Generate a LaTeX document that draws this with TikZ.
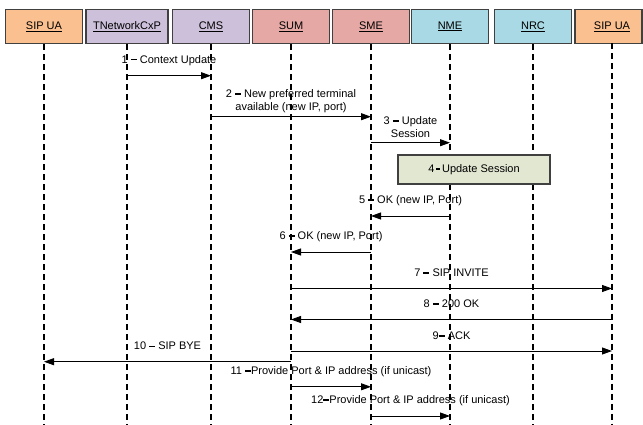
\documentclass[tikz,border=0pt]{standalone}
\usepackage{fontspec}
\setmainfont{Liberation Sans}
\usetikzlibrary{arrows.meta}

\definecolor{uaorange}{HTML}{FAC08F}
\definecolor{ctxlilac}{HTML}{CCC0DA}
\definecolor{sessrose}{HTML}{E5A8A4}
\definecolor{netblue}{HTML}{A9D9E4}
\definecolor{stepgreen}{HTML}{E2E7D2}
\definecolor{edgegray}{HTML}{404040}

% short heavy bar used between a step number and its text
\newcommand{\msgbar}{\rule[2.6pt]{6pt}{1.8pt}}

\tikzset{
  actor/.style={draw=edgegray, line width=1.1pt, minimum width=77pt,
    minimum height=34pt, inner sep=0pt, font=\fontsize{11}{13}\selectfont},
  lifeline/.style={line width=1.8pt, dash pattern=on 6pt off 4pt},
  msg/.style={line width=0.9pt, -{Triangle[length=10pt,width=7pt]}},
  msglabel/.style={midway, yshift=15.5pt, inner sep=0pt, align=center,
    font=\fontsize{11}{13.5}\selectfont},
  notebox/.style={draw=edgegray, line width=1.1pt, fill=stepgreen,
    minimum width=152pt, minimum height=29pt, inner sep=0pt,
    font=\fontsize{11}{13}\selectfont}
}

\begin{document}
\begin{tikzpicture}[x=1pt, y=-1pt]
\useasboundingbox (0,0) rectangle (643,425);

% participants
\node[actor, fill=uaorange] (ua1) at (44,26.5) {\underline{SIP UA}};
\node[actor, fill=ctxlilac, minimum width=82pt] (tnc) at (127,26.5) {\underline{TNetworkCxP}};
\node[actor, fill=ctxlilac] (cms) at (211,26.5) {\underline{CMS}};
\node[actor, fill=sessrose] (sum) at (291,26.5) {\underline{SUM}};
\node[actor, fill=sessrose] (sme) at (371,26.5) {\underline{SME}};
\node[actor, fill=netblue] (nme) at (450,26.5) {\underline{NME}};
\node[actor, fill=netblue] (nrc) at (533,26.5) {\underline{NRC}};
\node[actor, fill=uaorange, minimum width=67pt] (ua2) at (608.5,26.5) {\hspace*{7pt}\underline{SIP UA}};

% lifeline feet
\coordinate (ua1b) at (44,425);
\coordinate (tncb) at (127,425);
\coordinate (cmsb) at (211,425);
\coordinate (sumb) at (291,425);
\coordinate (smeb) at (371,425);
\coordinate (nmeb) at (450,425);
\coordinate (nrcb) at (533,425);
\coordinate (ua2t) at (612,43.5);
\coordinate (ua2b) at (612,425);

\draw[lifeline] (ua1.south) -- (ua1b);
\draw[lifeline] (tnc.south) -- (tncb);
\draw[lifeline] (cms.south) -- (cmsb);
\draw[lifeline] (sum.south) -- (sumb);
\draw[lifeline] (sme.south) -- (smeb);
\draw[lifeline] (nme.south) -- (nmeb);
\draw[lifeline] (nrc.south) -- (nrcb);
\draw[lifeline] (ua2t) -- (ua2b);

% step 4 happens inside the network entities
\node[notebox] (upd) at (474,169.5) {4\,\rule[2.6pt]{4pt}{1.6pt}\,Update Session};

% message rows
\coordinate (m1) at (0,75.7);
\coordinate (m2) at (0,116.7);
\coordinate (m3) at (0,142.7);
\coordinate (m5) at (0,216);
\coordinate (m6) at (0,252);
\coordinate (m7) at (0,288.5);
\coordinate (m8) at (0,319.5);
\coordinate (m9) at (0,351);
\coordinate (m10) at (0,361.7);
\coordinate (m11) at (0,386.8);
\coordinate (m12) at (0,416);

\draw[msg] (tnc |- m1) -- node[msglabel] {1 \msgbar{} Context Update} (cms |- m1);
\draw[msg] (cms |- m2) -- node[msglabel] {2 \msgbar{} New preferred terminal\\available (new IP, port)} (sme |- m2);
\draw[msg] (sme |- m3) -- node[msglabel, font=\fontsize{11}{12.5}\selectfont] {3 \msgbar{} Update\\Session} (nme |- m3);
\draw[msg] (nme |- m5) -- node[msglabel] {5 \msgbar{} OK (new IP, Port)} (sme |- m5);
\draw[msg] (sme |- m6) -- node[msglabel] {6 \msgbar{} OK (new IP, Port)} (sum |- m6);
\draw[msg] (sum |- m7) -- node[msglabel] {7 \msgbar{} SIP INVITE} (ua2b |- m7);
\draw[msg] (ua2b |- m8) -- node[msglabel] {8 \msgbar{} 200 OK} (sum |- m8);
\draw[msg] (sum |- m9) -- node[msglabel] {9\msgbar{} ACK} (ua2b |- m9);
\draw[msg] (sum |- m10) -- node[msglabel] {10 \msgbar{} SIP BYE} (ua1 |- m10);
\draw[msg] (sum |- m11) -- node[msglabel] {11 \msgbar Provide Port \& IP address (if unicast)} (sme |- m11);
\draw[msg] (sme |- m12) -- node[msglabel] {12\msgbar Provide Port \& IP address (if unicast)} (nme |- m12);
\end{tikzpicture}
\end{document}
